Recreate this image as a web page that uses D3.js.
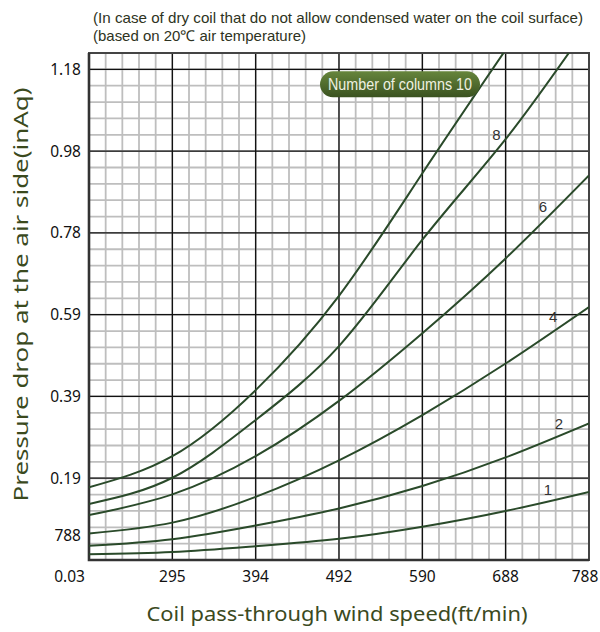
<!DOCTYPE html>
<meta charset="utf-8">
<script src="https://d3js.org/d3.v7.min.js"></script>
<style>
body { margin: 0; padding: 0; background: #fff; }
.note { font-family: 'Liberation Sans Narrow', 'Arial Narrow', 'Liberation Sans', sans-serif; font-size: 15px; fill: #2e3322; }
.tick-label { font-family: 'Noto Sans', 'Open Sans', sans-serif; font-size: 15.5px; fill: #111; }
.axis-title { font-family: 'Noto Sans', 'Open Sans', sans-serif; font-size: 20px; fill: #3b4a1e; }
.curve-label { font-family: 'Liberation Sans Narrow', 'Liberation Sans', sans-serif; font-size: 15px; fill: #333; }
</style>
<body>
<div id="chart"></div>
<script>
// wind speed (ft/min) where the curves were read
var speeds = [196.85, 295.3, 393.7, 492.1, 590.6, 688.9, 787.4];

// pressure drop (inAq), one list per number of columns
var cols1  = [0.014, 0.019, 0.033, 0.051, 0.080, 0.118, 0.164];
var cols2  = [0.034, 0.050, 0.083, 0.124, 0.178, 0.247, 0.329];
var cols4  = [0.064, 0.090, 0.152, 0.240, 0.349, 0.473, 0.609];
var cols6  = [0.108, 0.158, 0.250, 0.383, 0.546, 0.726, 0.926];
var cols8  = [0.135, 0.198, 0.337, 0.515, 0.771, 1.013, 1.29];
var cols10 = [0.175, 0.250, 0.409, 0.636, 0.931, 1.228];

var curveNames = ["1", "2", "4", "6", "8", "10"];

// axis ticks and their printed labels
var xTicks = [295.3, 393.7, 492.1, 590.6, 688.9, 787.4];
var xTickLabels = ["295", "394", "492", "590", "688", "788"];
var yTicks = [0.1969, 0.3937, 0.5906, 0.7874, 0.9843, 1.1811];
var yTickLabels = ["0.19", "0.39", "0.59", "0.78", "0.98", "1.18"];

var margin = {top: 53, right: 11, bottom: 72, left: 89},
    width = 600 - margin.left - margin.right,
    height = 632 - margin.top - margin.bottom;

var svg = d3.select("#chart").append("svg")
    .attr("width", 600)
    .attr("height", 632)
  .append("g")
    .attr("transform", "translate(" + margin.left + "," + margin.top + ")");

var x = d3.scaleLinear().domain([196.85, 787.4]).range([0, width]);
var y = d3.scaleLinear().domain([0, 1.2205]).range([height, 0]);

// minor grid, 5 per major division
var xMinor = d3.range(1, 30).map(function(i) { return 196.85 + i * 19.685; });
var yMinor = d3.range(1, 31).map(function(i) { return i * 0.03937; });

svg.append("g").selectAll("line")
  .data(xMinor)
  .enter().append("line")
    .attr("x1", function(d) { return x(d); })
    .attr("x2", function(d) { return x(d); })
    .attr("y1", 0).attr("y2", height)
    .attr("stroke", "#bebebe").attr("stroke-width", 1.8);

svg.append("g").selectAll("line")
  .data(yMinor)
  .enter().append("line")
    .attr("y1", function(d) { return y(d); })
    .attr("y2", function(d) { return y(d); })
    .attr("x1", 0).attr("x2", width)
    .attr("stroke", "#bebebe").attr("stroke-width", 1.8);

// major grid
svg.append("g").selectAll("line")
  .data(xTicks.slice(0, 5))
  .enter().append("line")
    .attr("x1", function(d) { return x(d); })
    .attr("x2", function(d) { return x(d); })
    .attr("y1", 0).attr("y2", height)
    .attr("stroke", "#111").attr("stroke-width", 1.3);

svg.append("g").selectAll("line")
  .data(yTicks)
  .enter().append("line")
    .attr("y1", function(d) { return y(d); })
    .attr("y2", function(d) { return y(d); })
    .attr("x1", 0).attr("x2", width)
    .attr("stroke", "#111").attr("stroke-width", 1.3);

// frame
svg.append("rect")
    .attr("width", width).attr("height", height)
    .attr("fill", "none").attr("stroke", "#444").attr("stroke-width", 2);
svg.append("path")
    .attr("d", "M0,0V" + height + "H" + width)
    .attr("fill", "none").attr("stroke", "#333").attr("stroke-width", 2.6);

// curves
svg.append("clipPath").attr("id", "clip")
  .append("rect").attr("width", width).attr("height", height);

var line = d3.line()
    .x(function(d) { return x(d[0]); })
    .y(function(d) { return y(d[1]); })
    .curve(d3.curveNatural);

var allCurves = [cols1, cols2, cols4, cols6, cols8, cols10];
svg.append("g").attr("clip-path", "url(#clip)")
  .selectAll("path")
  .data(allCurves)
  .enter().append("path")
    .attr("d", function(vals) {
      return line(vals.map(function(v, i) { return [speeds[i], v]; }));
    })
    .attr("fill", "none")
    .attr("stroke", "#2a4a2a")
    .attr("stroke-width", 2);

// curve labels
var labelPos = [[739, 0.169], [752, 0.328], [745, 0.585], [733, 0.851], [678, 1.024]];
svg.append("g").selectAll("text")
  .data(labelPos)
  .enter().append("text")
    .attr("class", "curve-label")
    .attr("x", function(d) { return x(d[0]); })
    .attr("y", function(d) { return y(d[1]); })
    .attr("text-anchor", "middle")
    .attr("dy", "0.35em")
    .text(function(d, i) { return curveNames[i]; });

// badge
var badgeX = x(469.7), badgeY = y(1.1811) + 2;
var grad = svg.append("defs").append("linearGradient")
    .attr("id", "badge").attr("x1", 0).attr("x2", 0).attr("y1", 0).attr("y2", 1);
grad.append("stop").attr("offset", "0%").attr("stop-color", "#66853c");
grad.append("stop").attr("offset", "100%").attr("stop-color", "#3a5220");
svg.append("rect")
    .attr("x", badgeX).attr("y", badgeY)
    .attr("width", 160).attr("height", 26)
    .attr("rx", 13)
    .attr("fill", "url(#badge)");
svg.append("text")
    .attr("class", "note")
    .attr("x", badgeX + 80).attr("y", badgeY + 13)
    .attr("dy", "0.35em")
    .attr("text-anchor", "middle")
    .style("fill", "#eef0e0")
    .style("font-size", "16px")
    .attr("textLength", 144).attr("lengthAdjust", "spacingAndGlyphs")
    .text("Number of columns " + curveNames[5]);

// tick labels
svg.append("g").selectAll("text")
  .data(xTicks)
  .enter().append("text")
    .attr("class", "tick-label")
    .attr("x", function(d, i) { return i == 5 ? x(d) - 4 : x(d); })
    .attr("y", height + 17)
    .attr("dy", "0.35em")
    .attr("text-anchor", "middle")
    .text(function(d, i) { return xTickLabels[i]; });

svg.append("g").selectAll("text")
  .data(yTicks)
  .enter().append("text")
    .attr("class", "tick-label")
    .attr("x", -8)
    .attr("y", function(d) { return y(d); })
    .attr("dy", "0.35em")
    .attr("text-anchor", "end")
    .text(function(d, i) { return yTickLabels[i]; });

// odd labels printed on the original
svg.append("text").attr("class", "tick-label")
    .attr("x", -8).attr("y", y(0.058)).attr("dy", "0.35em")
    .attr("text-anchor", "end").text("788");
svg.append("text").attr("class", "tick-label")
    .attr("x", -4).attr("y", height + 17).attr("dy", "0.35em")
    .attr("text-anchor", "end").text("0.03");

// notes on top
svg.append("text").attr("class", "note")
    .attr("x", 4).attr("y", -30)
    .attr("textLength", 490).attr("lengthAdjust", "spacingAndGlyphs")
    .text("(In case of dry coil that do not allow condensed water on the coil surface)");
svg.append("text").attr("class", "note")
    .attr("x", 4).attr("y", -12)
    .attr("textLength", 213).attr("lengthAdjust", "spacingAndGlyphs")
    .text("(based on 20\u2103 air temperature)");

// axis titles
svg.append("text").attr("class", "axis-title")
    .attr("x", width / 2 - 2).attr("y", height + 61)
    .attr("text-anchor", "middle")
    .attr("textLength", 381).attr("lengthAdjust", "spacingAndGlyphs")
    .text("Coil pass-through wind speed(ft/min)");
svg.append("text").attr("class", "axis-title")
    .attr("transform", "translate(" + (-61) + "," + (height / 2 - 12) + ") rotate(-90)")
    .attr("text-anchor", "middle")
    .attr("textLength", 414).attr("lengthAdjust", "spacingAndGlyphs")
    .text("Pressure drop at the air side(inAq)");
</script>
</body>
